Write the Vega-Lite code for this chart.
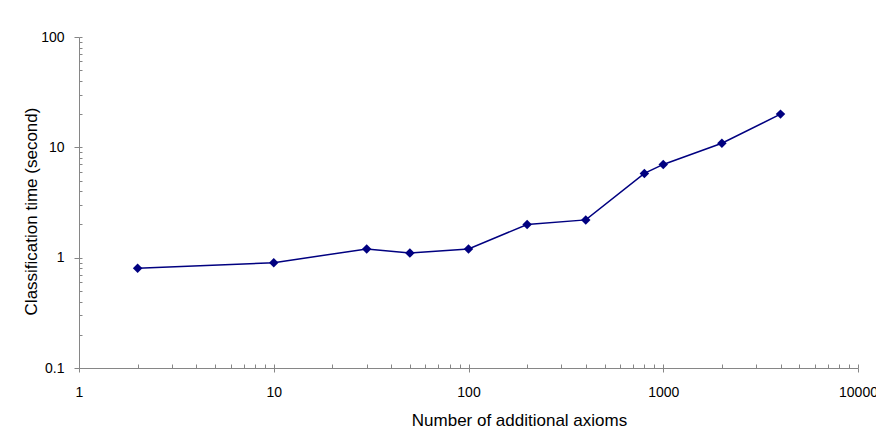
{
  "$schema": "https://vega.github.io/schema/vega-lite/v6.json",
  "width": 779,
  "height": 331,
  "autosize": {"type": "none"},
  "padding": {"left": 79, "top": 37, "right": 18, "bottom": 64},
  "background": "white",
  "config": {
    "view": {"stroke": null},
    "font": "Liberation Sans",
    "axis": {
      "domainColor": "#868686",
      "tickColor": "#868686",
      "labelFont": "Liberation Sans",
      "titleFont": "Liberation Sans",
      "labelFontSize": 14,
      "titleFontSize": 17,
      "labelColor": "#000000",
      "titleColor": "#000000",
      "titleFontWeight": "normal",
      "grid": false
    }
  },
  "data": {
    "values": [
      {"axioms": 2, "time": 0.8},
      {"axioms": 10, "time": 0.9},
      {"axioms": 30, "time": 1.2},
      {"axioms": 50, "time": 1.1},
      {"axioms": 100, "time": 1.2},
      {"axioms": 200, "time": 2.0},
      {"axioms": 400, "time": 2.2},
      {"axioms": 800, "time": 5.8},
      {"axioms": 1000, "time": 7.0},
      {"axioms": 2000, "time": 10.9},
      {"axioms": 4000, "time": 20.0}
    ]
  },
  "resolve": {"axis": {"x": "independent", "y": "independent"}},
  "layer": [
    {
      "mark": {"type": "line", "color": "#000080", "strokeWidth": 1.5, "point": {"shape": "diamond", "filled": true, "size": 90, "color": "#000080", "opacity": 1}},
      "encoding": {
        "x": {
          "field": "axioms", "type": "quantitative",
          "scale": {"type": "log", "domain": [1, 10000], "nice": false},
          "axis": {
            "orient": "bottom",
            "title": "Number of additional axioms",
            "titlePadding": 13,
            "titleX": 440,
            "values": [1,2,3,4,5,6,7,8,9,10,20,30,40,50,60,70,80,90,100,200,300,400,500,600,700,800,900,1000,2000,3000,4000,5000,6000,7000,8000,9000,10000],
            "format": "~g",
            "labelExpr": "indexof([1,10,100,1000,10000], datum.value) >= 0 ? datum.label : ''",
            "tickSize": {"condition": {"test": "indexof([1,10,100,1000,10000], datum.value) >= 0", "value": 4}, "value": -4},
            "labelPadding": 13,
            "labelFlush": false,
            "labelOverlap": false
          }
        },
        "y": {
          "field": "time", "type": "quantitative",
          "scale": {"type": "log", "domain": [0.1, 100], "nice": false},
          "axis": {
            "orient": "left",
            "title": "Classification time (second)",
            "titlePadding": 0,
            "titleY": 174,
            "values": [0.1,0.2,0.3,0.4,0.5,0.6,0.7,0.8,0.9,1,2,3,4,5,6,7,8,9,10,20,30,40,50,60,70,80,90,100],
            "format": "~g",
            "labelExpr": "indexof([0.1,1,10,100], datum.value) >= 0 ? datum.label : ''",
            "tickSize": {"condition": {"test": "indexof([0.1,1,10,100], datum.value) >= 0", "value": 5}, "value": -3},
            "labelPadding": 10,
            "labelFlush": false,
            "labelOverlap": false
          }
        }
      }
    },
    {
      "mark": {"type": "point", "opacity": 0},
      "encoding": {
        "x": {
          "field": "axioms", "type": "quantitative",
          "scale": {"type": "log", "domain": [1, 10000], "nice": false},
          "axis": {"orient": "bottom", "title": null, "labels": false, "domain": false, "values": [1,10,100,1000,10000], "tickSize": -4}
        },
        "y": {
          "field": "time", "type": "quantitative",
          "scale": {"type": "log", "domain": [0.1, 100], "nice": false},
          "axis": {"orient": "left", "title": null, "labels": false, "domain": false, "values": [0.1,1,10,100], "tickSize": -3}
        }
      }
    }
  ]
}
